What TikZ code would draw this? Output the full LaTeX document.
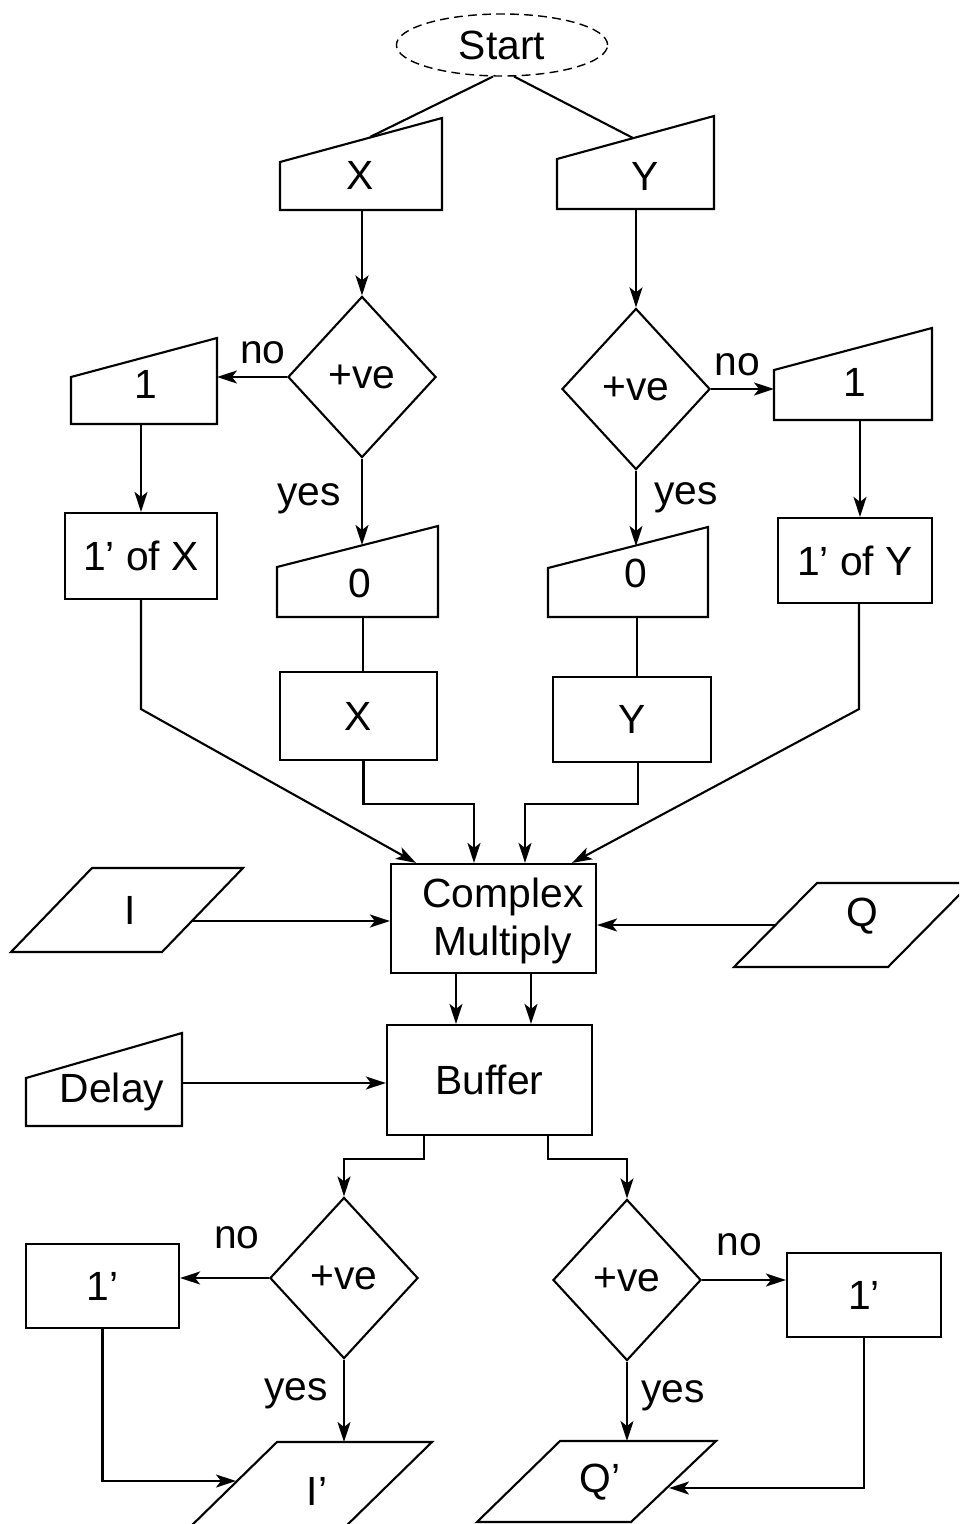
\documentclass[tikz,border=0pt]{standalone}
\usepackage{fontspec}
\setmainfont{Liberation Sans}
\usetikzlibrary{arrows.meta,shapes.geometric}
\begin{document}
\begin{tikzpicture}[x=0.01cm,y=-0.01cm,line width=0.6pt,
  font=\fontsize{11.6}{13.4}\selectfont,
  box/.style={draw,rectangle,inner sep=0pt},
  dec/.style={draw,diamond,inner sep=0pt,minimum width=1.48cm,minimum height=1.61cm},
  lbl/.style={inner sep=0pt},
  arr/.style={-{Stealth[length=2mm,width=1.3mm,inset=0.5mm]}}]
\useasboundingbox (0,0) rectangle (959,1524);
\clip (0,0) rectangle (959,1524);

% start terminal
\node[draw,ellipse,dash pattern=on 2.5pt off 1.5pt,line width=0.4pt,
      minimum width=2.11cm,minimum height=0.62cm,inner sep=0pt] (start) at (502,45) {Start};

% manual inputs X and Y
\draw (280,162) -- (442,118) -- (442,210) -- (280,210) -- cycle;
\node[lbl] (tX) at (360,175) {X};
\coordinate (xin) at (370,137);
\coordinate (xout) at (362,210);
\draw (557,159) -- (714,116) -- (714,209) -- (557,209) -- cycle;
\node[lbl] (tY) at (645,176) {Y};
\coordinate (yin) at (633,138);
\coordinate (yout) at (636,209);

% sign tests on X and Y
\node[dec] (dL) at (362,377) {+ve};
\node[dec] (dR) at (636,389) {+ve};

% constant inputs
\draw (71,377) -- (217,338) -- (217,424) -- (71,424) -- cycle;
\node[lbl] (t1L) at (146,384) {1};
\coordinate (oneLin) at (217,377);
\coordinate (oneLout) at (141,424);
\draw (277,567) -- (438,526) -- (438,617) -- (277,617) -- cycle;
\node[lbl] (t0L) at (360,583) {0};
\coordinate (zeroLin) at (362,545);
\coordinate (zeroLout) at (363,617);
\draw (774,370) -- (932,328) -- (932,420) -- (774,420) -- cycle;
\node[lbl] (t1R) at (855,382) {1};
\coordinate (oneRin) at (774,389);
\coordinate (oneRout) at (860,420);
\draw (548,568) -- (708,527) -- (708,617) -- (548,617) -- cycle;
\node[lbl] (t0R) at (636,573) {0};
\coordinate (zeroRin) at (636,546);
\coordinate (zeroRout) at (637,617);

% processes
\node[box,minimum width=1.52cm,minimum height=0.86cm] (oneX) at (141,556) {1' of X};
\node[box,minimum width=1.57cm,minimum height=0.88cm] (xbox) at (358.5,716) {X};
\node[box,minimum width=1.58cm,minimum height=0.85cm] (ybox) at (632,719.5) {Y};
\node[box,minimum width=1.54cm,minimum height=0.85cm] (oneY) at (855,560.5) {1' of Y};
\node[box,minimum width=2.05cm,minimum height=1.09cm] (cm) at (493.5,918.5) {};
\node[lbl,align=center] (cmtext) at (503,921) {Complex\\Multiply};
\node[box,minimum width=2.05cm,minimum height=1.10cm] (buf) at (489.5,1080) {Buffer};

% data I and Q
\draw (92,868) -- (243,868) -- (162,952) -- (11,952) -- cycle;
\node[lbl] (tI) at (130,910) {I};
\coordinate (iout) at (192,921);
\draw (817,883) -- (971,883) -- (888,967) -- (734,967) -- cycle;
\node[lbl] (tQ) at (862,916) {Q};
\coordinate (qout) at (776,925);

% delay input
\draw (26,1078) -- (182,1033) -- (182,1126) -- (26,1126) -- cycle;
\node[lbl] (tD) at (112,1092) {Delay};
\coordinate (dout) at (182,1083);

% output sign tests
\node[dec] (dBL) at (344,1278) {+ve};
\node[dec] (dBR) at (627,1280) {+ve};
\node[box,minimum width=1.53cm,minimum height=0.84cm] (oneL) at (102.5,1286) {1'};
\node[box,minimum width=1.54cm,minimum height=0.84cm] (oneR) at (864,1295) {1'};

% outputs I' and Q'
\draw (277,1442) -- (432,1442) -- (342,1530) -- (187,1530) -- cycle;
\node[lbl] (tIp) at (317,1491) {I'};
\coordinate (ipin) at (344,1442);
\coordinate (ipl) at (236,1481);
\draw (560,1441) -- (716,1441) -- (631,1522) -- (477,1522) -- cycle;
\node[lbl] (tQp) at (600,1482) {Q'};
\coordinate (qpin) at (627,1441);
\coordinate (qpr) at (669,1488);

% branch labels
\node[lbl] (noL) at (263,353) {no};
\node[lbl] (yesL) at (309,499) {yes};
\node[lbl] (noR) at (737,365) {no};
\node[lbl] (yesR) at (686,498) {yes};
\node[lbl] (noBL) at (237,1238) {no};
\node[lbl] (yesBL) at (296,1394) {yes};
\node[lbl] (noBR) at (739,1245) {no};
\node[lbl] (yesBR) at (673,1396) {yes};

% connectors
\draw (start.254) -- (xin);
\draw (start.291) -- (yin);
\draw[arr] (xout) -- (dL.north);
\draw[arr] (yout) -- (dR.north);
\draw[arr] (dL.west) -- (oneLin);
\draw[arr] (oneLout) -- (oneX.north);
\draw[arr] (dL.south) -- (zeroLin);
\draw (zeroLout) -- (zeroLout |- xbox.north);
\draw[arr] (dR.east) -- (oneRin);
\draw[arr] (oneRout) -- (oneRout |- oneY.north);
\draw[arr] (dR.south) -- (zeroRin);
\draw (zeroRout) -- (zeroRout |- ybox.north);

\draw[arr] (oneX.south) -- ++(0,109) -- ([xshift=-0.775cm]cm.north);
\draw[arr] ([xshift=0.05cm]xbox.south) -- ++(0,43) -| ([xshift=-0.195cm]cm.north);
\draw[arr] ([xshift=0.06cm]ybox.south) -- ++(0,41) -| ([xshift=0.315cm]cm.north);
\draw[arr] ([xshift=0.04cm]oneY.south) -- ++(0,105) -- ([xshift=0.785cm]cm.north);
\draw[arr] (iout) -- (iout -| cm.west);
\draw[arr] (qout) -- (qout -| cm.east);

\coordinate (m1) at ([xshift=-0.375cm]cm.south);
\coordinate (m2) at ([xshift=0.375cm]cm.south);
\draw[arr] (m1) -- (m1 |- buf.north);
\draw[arr] (m2) -- (m2 |- buf.north);
\draw[arr] (dout) -- (dout -| buf.west);

\draw[arr] ([xshift=-0.655cm]buf.south) -- ++(0,23) -| (dBL.north);
\draw[arr] ([xshift=0.585cm]buf.south) -- ++(0,23) -| (dBR.north);
\draw[arr] (dBL.west) -- (dBL.west -| oneL.east);
\draw[arr] (dBL.south) -- (ipin);
\draw[arr] (oneL.south) |- (ipl);
\draw[arr] (dBR.east) -- (dBR.east -| oneR.west);
\draw[arr] (dBR.south) -- (qpin);
\draw[arr] (oneR.south) |- (qpr);
\end{tikzpicture}
\end{document}
